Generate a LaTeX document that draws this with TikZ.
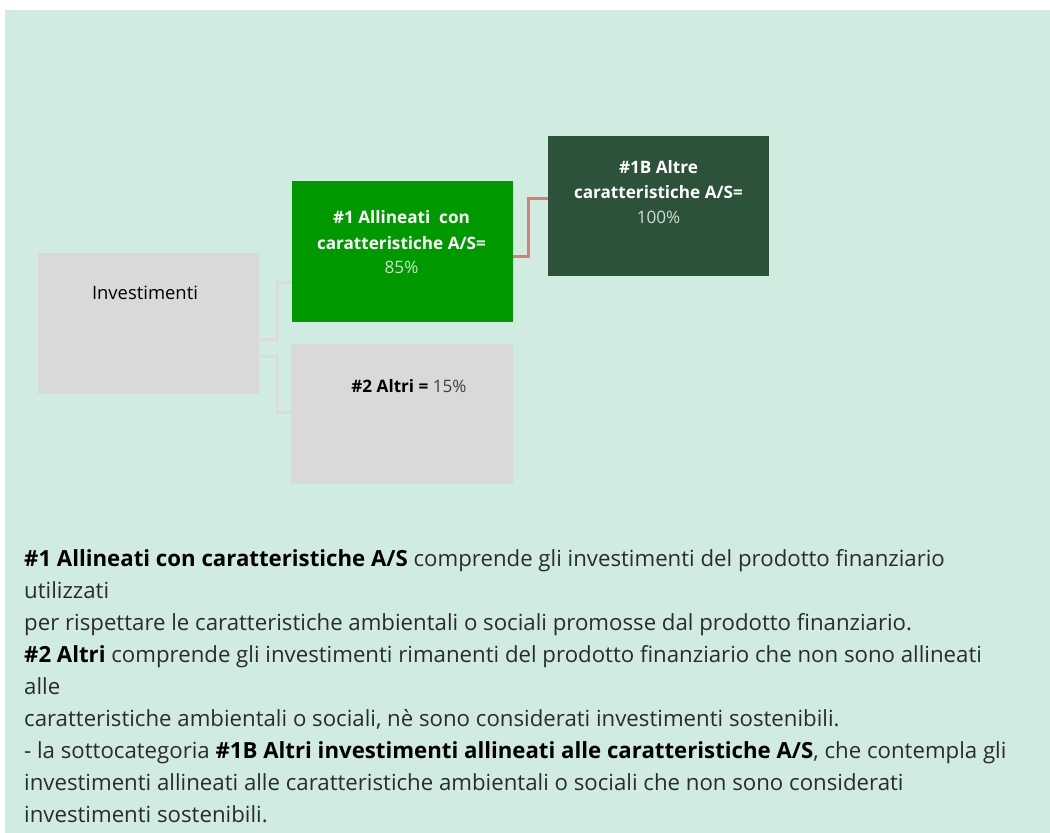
\documentclass[tikz,border=0pt]{standalone}
\usepackage{fontspec}
\setmainfont{Open Sans}
\definecolor{bgc}{HTML}{D0EBE0}
\definecolor{greyb}{HTML}{D9D9D9}
\definecolor{greenb}{HTML}{009900}
\definecolor{darkb}{HTML}{2C5239}
\definecolor{redl}{HTML}{DE7A72}
\definecolor{greyl}{HTML}{D8DCDA}
\definecolor{bodyc}{HTML}{2B2B2B}
\definecolor{pct1}{HTML}{C8E8C8}
\definecolor{pct2}{HTML}{D0DCD3}
\definecolor{pct3}{HTML}{404040}
\tikzset{
  box/.style={rectangle, inner sep=0pt, draw=none},
  boxtxt/.style={anchor=base, inner sep=0pt, font=\fontsize{17.2}{20}\selectfont},
  bodyline/.style={anchor=base west, inner sep=0pt, text=bodyc, font=\fontsize{22.3}{26}\selectfont},
  gconn/.style={draw=greyl, line width=3bp},
  rconn/.style={draw=redl, line width=3bp}
}
\begin{document}
\begin{tikzpicture}[x=1bp,y=-1bp]
\useasboundingbox (0,0) rectangle (1050,833);
\fill[bgc] (5,10) rectangle (1050,833);
% boxes
\node[box, fill=greyb, minimum width=221bp, minimum height=141bp] (inv) at (148.5,323.5) {};
\node[box, fill=greenb, minimum width=221bp, minimum height=141bp] (a1) at (402.5,251.5) {};
\node[box, fill=greyb, minimum width=222bp, minimum height=140bp] (a2) at (402,414) {};
\node[box, fill=darkb, minimum width=221bp, minimum height=140bp] (a1b) at (658.5,206) {};
% connectors
\draw[gconn] ([yshift=-15.5bp]inv.east) -- ++(18,0) |- ([yshift=-30.5bp]a1.west);
\draw[gconn] ([yshift=-32.5bp]inv.east) -- ++(18,0) |- ([yshift=2bp]a2.west);
\draw[rconn] ([yshift=-4.5bp]a1.east) -- ++(15,0) |- ([yshift=8bp]a1b.west);
% box texts
\node[boxtxt, text=black, font=\fontsize{18.5}{20}\selectfont] (invt) at (145,299) {Investimenti};
\node[boxtxt, text=white] (a1t1) at (401.5,223) {\bfseries\#1 Allineati~ con};
\node[boxtxt, text=white] (a1t2) at (401.5,249) {\bfseries caratteristiche A/S=};
\node[boxtxt, text=pct1] (a1t3) at (401.5,273) {85\%};
\node[boxtxt, text=black] (a2t) at (409,392) {\textbf{\#2 Altri =} \textcolor{pct3}{15\%}};
\node[boxtxt, text=white] (a1bt1) at (658.5,173) {\bfseries\#1B Altre};
\node[boxtxt, text=white] (a1bt2) at (658.5,198) {\bfseries caratteristiche A/S=};
\node[boxtxt, text=pct2] (a1bt3) at (658.5,223) {100\%};
% body text
\node[bodyline] (l1) at (24,566) {\textcolor{black}{\bfseries\#1 Allineati con caratteristiche A/S} comprende gli investimenti del prodotto finanziario};
\node[bodyline] (l2) at (24,598) {utilizzati};
\node[bodyline] (l3) at (24,630) {per rispettare le caratteristiche ambientali o sociali promosse dal prodotto finanziario.};
\node[bodyline] (l4) at (24,662) {\textcolor{black}{\bfseries\#2 Altri} comprende gli investimenti rimanenti del prodotto finanziario che non sono allineati};
\node[bodyline] (l5) at (24,694) {alle};
\node[bodyline] (l6) at (24,726) {caratteristiche ambientali o sociali, nè sono considerati investimenti sostenibili.};
\node[bodyline] (l7) at (24,758) {- la sottocategoria \textcolor{black}{\bfseries\#1B Altri investimenti allineati alle caratteristiche A/S}, che contempla gli};
\node[bodyline] (l8) at (24,790) {investimenti allineati alle caratteristiche ambientali o sociali che non sono considerati};
\node[bodyline] (l9) at (24,822) {investimenti sostenibili.};
\end{tikzpicture}
\end{document}
